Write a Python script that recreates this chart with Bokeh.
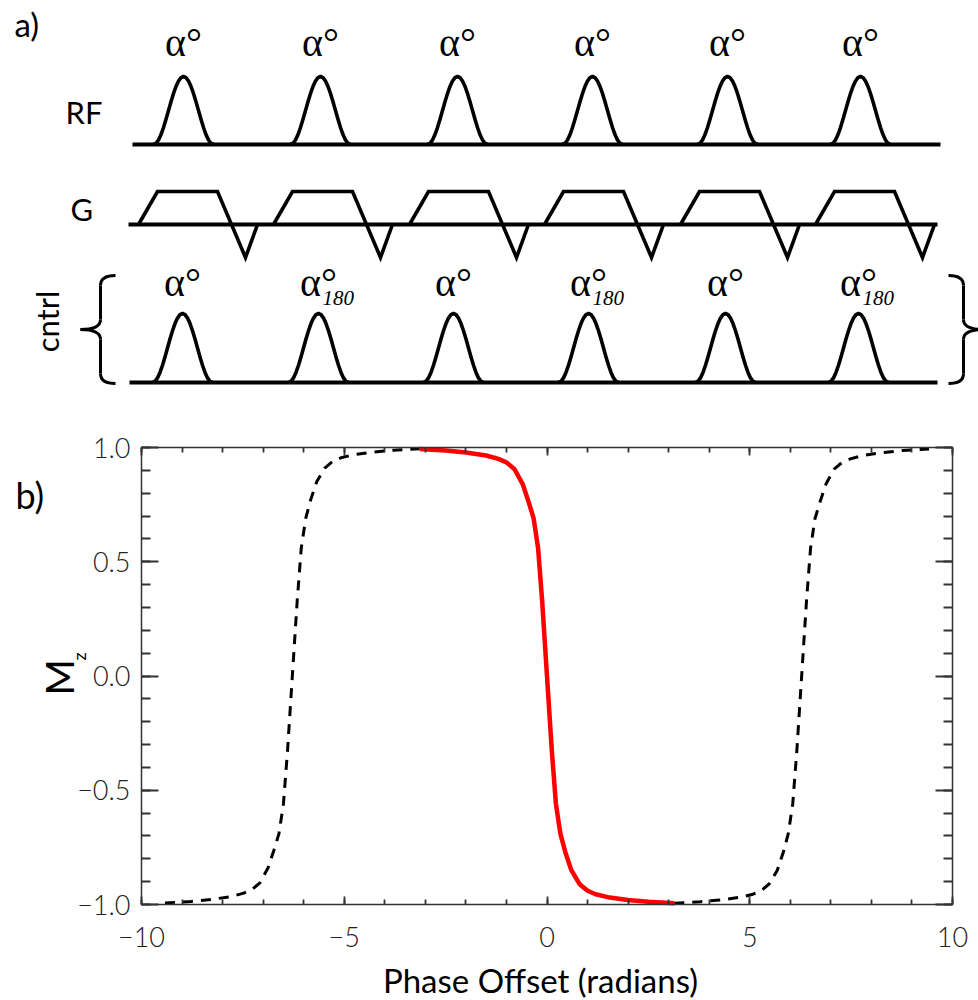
import math
from bokeh.plotting import figure
from bokeh.models import Range1d, LinearAxis, SingleIntervalTicker
from bokeh.core.properties import value
from bokeh.embed import file_html
from bokeh.resources import INLINE

# ---------------- part a) : pulse-sequence diagram (page-pixel coordinates) ----------------
rf_centers = [183, 320, 457, 592, 727, 860]
rf_labels = ["α°", "α°", "α°", "α°", "α°", "α°"]
ctrl_centers = [182, 318, 453, 588, 725, 858]
ctrl_labels = ["α°", "α°", "α°", "α°", "α°", "α°"]
ctrl_phase = ["", "180", "", "180", "", "180"]

# RF pulse envelope template (offset from pulse centre, relative height)
pulse_dx = [-30, -27.5, -25, -22.5, -20, -17.5, -15, -12.5, -10, -7.5, -5, -2.5, 0,
            2.5, 5, 7.5, 10, 12.5, 15, 17.5, 20, 22.5, 25, 27.5, 30]
pulse_h = [0.0, 0.017, 0.067, 0.146, 0.25, 0.371, 0.5, 0.629, 0.75, 0.854, 0.933, 0.983, 1.0,
           0.983, 0.933, 0.854, 0.75, 0.629, 0.5, 0.371, 0.25, 0.146, 0.067, 0.017, 0.0]

# gradient lobes: start positions and lobe template (trapezoid + negative spike)
grad_starts = [138, 273, 409, 544, 680, 815]
grad_dx = [0, 19, 79, 107, 119]
grad_level = [0, 1, 1, -1, 0]

row_names = ["RF", "G"]
row_name_x = [65, 70]
row_name_y = [125, 222]
rows_baseline = {"rf": 144, "g": 224, "ctrl": 382}
rows_amp = {"rf": 68, "g": 33, "ctrl": 69}
line_start = {"rf": 132, "g": 128, "ctrl": 129}
line_end = {"rf": 940, "g": 937, "ctrl": 937}

# ---------------- part b) : Mz vs phase offset ----------------
red_x = [-3.14, -2.5, -2.0, -1.5, -1.2, -1.0, -0.8, -0.6, -0.45, -0.33, -0.22, -0.12, 0.0,
         0.12, 0.22, 0.33, 0.45, 0.6, 0.8, 1.0, 1.2, 1.5, 2.0, 2.5, 3.14]
red_mz = [0.993, 0.987, 0.978, 0.965, 0.95, 0.935, 0.905, 0.84, 0.76, 0.69, 0.56, 0.33, 0.0,
          -0.33, -0.56, -0.69, -0.77, -0.85, -0.91, -0.94, -0.955, -0.968, -0.98, -0.988, -0.995]
left_x = [-9.42, -8.78, -8.28, -7.78, -7.48, -7.28, -7.08, -6.88, -6.73, -6.61, -6.50, -6.40, -6.28,
          -6.16, -6.06, -5.95, -5.83, -5.68, -5.48, -5.28, -5.08, -4.78, -4.28, -3.78, -3.14]
left_mz = [-0.993, -0.987, -0.978, -0.965, -0.95, -0.935, -0.905, -0.84, -0.76, -0.69, -0.56, -0.33, 0.0,
           0.33, 0.56, 0.69, 0.77, 0.85, 0.91, 0.94, 0.955, 0.968, 0.98, 0.988, 0.995]
right_x = [3.14, 3.78, 4.28, 4.78, 5.08, 5.28, 5.48, 5.68, 5.83, 5.95, 6.06, 6.16, 6.28,
           6.40, 6.50, 6.61, 6.73, 6.88, 7.08, 7.28, 7.48, 7.78, 8.28, 8.78, 9.42]
right_mz = [-0.995, -0.988, -0.98, -0.968, -0.955, -0.94, -0.91, -0.85, -0.77, -0.69, -0.56, -0.33, 0.0,
            0.33, 0.56, 0.69, 0.76, 0.84, 0.905, 0.935, 0.95, 0.965, 0.978, 0.987, 0.993]

x_tick_labels = {-10: "−10", -5: "−5", 0: "0", 5: "5", 10: "10"}
y_tick_labels = {-1: "−1.0", -0.5: "−0.5", 0: "0.0", 0.5: "0.5", 1: "1.0"}
x_limits = (-10, 10)
y_limits = (-1, 1)

# ---------------- page geometry ----------------
W, H = 978, 1000
PLOT_L, PLOT_R, PLOT_T, PLOT_B = 141, 952, 447, 904   # plot box in page pixels
sx = (PLOT_R - PLOT_L) / (x_limits[1] - x_limits[0])
sy = (PLOT_B - PLOT_T) / (y_limits[1] - y_limits[0])
x_rng = Range1d(x_limits[0] - PLOT_L / sx, x_limits[1] + (W - PLOT_R) / sx)
y_rng = Range1d(y_limits[0] - (H - PLOT_B) / sy, y_limits[1] + PLOT_T / sy)

INK = "#000000"
FRAME = "#333333"
LW = 3.6
SERIF = "Liberation Serif"
SANS = "Lato"
TICK_FONT = "Lato Light"
serif = value(SERIF)
sans = value(SANS)
# measured offset of the rendered baseline below the requested one, per em
SANS_SHIFT = 0.42
SERIF_SHIFT = 0.37

def base(y, size, shift):
    return y - shift * size

p = figure(width=W, height=H, x_range=x_rng, y_range=y_rng, output_backend="svg",
           toolbar_location=None, min_border=0, x_axis_location=None, y_axis_location=None)
p.extra_x_ranges = {"px": Range1d(0, W)}
p.extra_y_ranges = {"px": Range1d(H, 0)}
p.grid.visible = False
p.outline_line_color = None
PX = dict(x_range_name="px", y_range_name="px")

# ---- part a drawing ----
for key in ["rf", "g", "ctrl"]:
    p.line([line_start[key], line_end[key]], [rows_baseline[key]] * 2, line_color=INK, line_width=4, **PX)

for key, centers in [("rf", rf_centers), ("ctrl", ctrl_centers)]:
    b, a = rows_baseline[key], rows_amp[key]
    xs = [[c + d for d in pulse_dx] for c in centers]
    ys = [[b - a * h for h in pulse_h] for _ in centers]
    p.multi_line(xs, ys, line_color=INK, line_width=LW, line_join="round", **PX)

gb, ga = rows_baseline["g"], rows_amp["g"]
gxs = [[s + d for d in grad_dx] for s in grad_starts]
gys = [[gb - ga * lv for lv in grad_level] for _ in grad_starts]
p.multi_line(gxs, gys, line_color=INK, line_width=LW, line_join="miter", **PX)

FA = 40
p.text(x=rf_centers, y=[base(57, FA, SERIF_SHIFT)] * 6, text=rf_labels, text_font=serif,
       text_font_size=f"{FA}px", text_align="center", text_baseline="alphabetic", text_color=INK, **PX)
p.text(x=ctrl_centers, y=[base(297, FA, SERIF_SHIFT)] * 6, text=ctrl_labels, text_font=serif,
       text_font_size=f"{FA}px", text_align="center", text_baseline="alphabetic", text_color=INK, **PX)
p.text(x=[c + 4 for c in ctrl_centers], y=[base(305, 21, SERIF_SHIFT)] * 6, text=ctrl_phase, text_font=serif,
       text_font_size="21px", text_font_style="italic", text_align="left",
       text_baseline="alphabetic", text_color=INK, **PX)

p.text(x=row_name_x, y=[base(v, 31, SANS_SHIFT) for v in row_name_y], text=row_names, text_font=sans,
       text_font_size="31px", text_align="left", text_baseline="alphabetic", text_color=INK, **PX)
p.text(x=[base(60, 31, SANS_SHIFT)], y=[321], text=["cntrl"], text_font=sans, text_font_size="31px",
       angle=math.pi / 2, text_align="center", text_baseline="alphabetic", text_color=INK, **PX)
p.text(x=[14], y=[base(37, 33, SANS_SHIFT)], text=["a)"],
       text_font=sans, text_font_size="33px", text_align="left", text_baseline="alphabetic",
       text_color=INK, **PX)
p.text(x=[15], y=[base(510, 36, SANS_SHIFT)], text=["b)"],
       text_font=sans, text_font_size="36px", text_align="left", text_baseline="alphabetic",
       text_color=INK, **PX)

brace_top, brace_mid, brace_bot, brace_r = 275, 329, 383, 10
for x_end, x_vert, x_tip in [(115, 100, 80), (948, 963, 983)]:
    p.quadratic(x0=[x_end, x_vert, x_tip, x_vert], y0=[brace_top, brace_mid - brace_r, brace_mid, brace_bot - brace_r],
                x1=[x_vert, x_tip, x_vert, x_end], y1=[brace_top + brace_r, brace_mid, brace_mid + brace_r, brace_bot],
                cx=[x_vert] * 4, cy=[brace_top, brace_mid, brace_mid, brace_bot],
                line_color=INK, line_width=3, **PX)
    p.segment(x0=[x_vert, x_vert], y0=[brace_top + brace_r, brace_mid + brace_r],
              x1=[x_vert, x_vert], y1=[brace_mid - brace_r, brace_bot - brace_r],
              line_color=INK, line_width=3, **PX)

# ---- part b axes (box with inward ticks) ----
xt = SingleIntervalTicker(interval=5, num_minor_ticks=5)
yt = SingleIntervalTicker(interval=0.5, num_minor_ticks=5)

def make_axis(loc, bounds, ticker, major_in, minor_in, labels, standoff):
    ax = LinearAxis(fixed_location=loc, bounds=bounds, ticker=ticker)
    ax.axis_line_color = FRAME
    ax.axis_line_width = 1.5
    ax.major_tick_line_color = FRAME
    ax.minor_tick_line_color = FRAME
    ax.major_tick_line_width = 1.8
    ax.minor_tick_line_width = 1.8
    ax.major_tick_in = major_in
    ax.major_tick_out = 0
    ax.minor_tick_in = minor_in
    ax.minor_tick_out = 0
    if labels is None:
        ax.major_label_text_color = None
        ax.major_label_text_alpha = 0
    else:
        ax.major_label_overrides = labels
        ax.major_label_text_font = TICK_FONT
        ax.major_label_text_font_size = "27px"
        ax.major_label_text_color = "#222222"
        ax.major_label_standoff = standoff
    return ax

p.add_layout(make_axis(y_limits[0], x_limits, xt, 8, 5, x_tick_labels, 22), "below")
p.add_layout(make_axis(y_limits[1], x_limits, xt, 8, 5, None, 0), "above")
p.add_layout(make_axis(x_limits[0], y_limits, yt, 17, 9, y_tick_labels, 11), "left")
p.add_layout(make_axis(x_limits[1], y_limits, yt, 17, 9, None, 0), "right")

# ---- part b curves ----
p.line(left_x, left_mz, line_color=INK, line_width=3, line_dash="10 8")
p.line(right_x, right_mz, line_color=INK, line_width=3, line_dash="10 8")
p.line(red_x, red_mz, line_color="#ff0000", line_width=4.5)

# ---- part b axis titles ----
p.text(x=[540], y=[base(993, 33, SANS_SHIFT)], text=["Phase Offset (radians)"], text_font=sans,
       text_font_size="33px", text_align="center", text_baseline="alphabetic", text_color=INK, **PX)
p.text(x=[base(75, 39, SANS_SHIFT)], y=[677], text=["M"], text_font=sans, text_font_size="39px",
       angle=math.pi / 2, text_align="center", text_baseline="alphabetic", text_color=INK, **PX)
p.text(x=[base(86, 18, SANS_SHIFT)], y=[656], text=["z"], text_font=sans, text_font_size="18px",
       angle=math.pi / 2, text_align="center", text_baseline="alphabetic", text_color=INK, **PX)

open("out.html", "w").write(file_html(p, INLINE))
